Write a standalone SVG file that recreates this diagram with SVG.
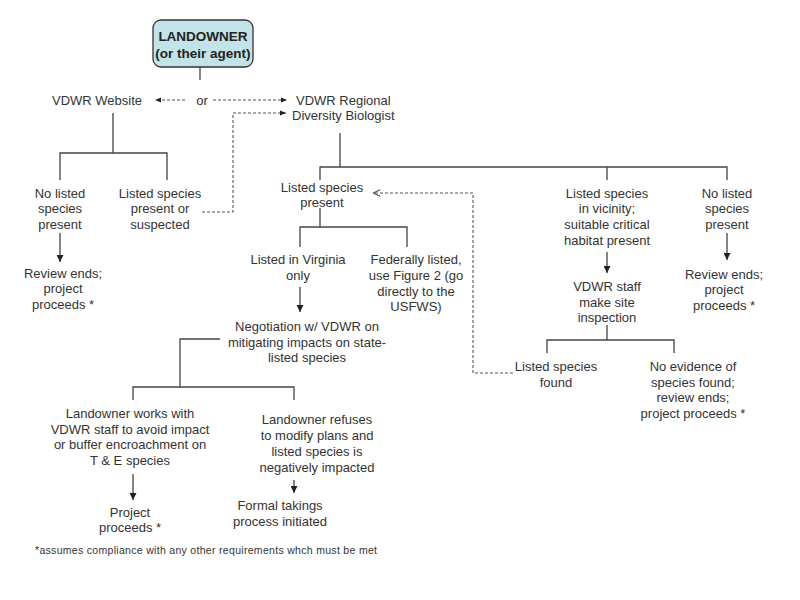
<svg xmlns="http://www.w3.org/2000/svg" width="800" height="600" viewBox="0 0 800 600">
<defs>
<style>
text{font-family:"Liberation Sans",Arial,sans-serif;font-size:13px;fill:#333;}
.c{text-anchor:middle;}
.b{font-weight:bold;font-size:13.5px;fill:#222;}
.fn{font-size:10.5px;}
.ln{stroke:#444;stroke-width:1.3;fill:none;}
.ds{stroke:#555;stroke-width:1.1;fill:none;stroke-dasharray:3,2;}
</style>
<marker id="ah" viewBox="0 0 10 10" refX="10" refY="5" markerWidth="7" markerHeight="7" markerUnits="userSpaceOnUse" orient="auto">
<path d="M0,0 L10,5 L0,10 z" fill="#222"/>
</marker>
<marker id="ahs" viewBox="0 0 10 10" refX="10" refY="5" markerWidth="6" markerHeight="6" markerUnits="userSpaceOnUse" orient="auto">
<path d="M0,1 L10,5 L0,9 z" fill="#222"/>
</marker>
<marker id="open" viewBox="0 0 10 10" refX="10" refY="5" markerWidth="8" markerHeight="8" markerUnits="userSpaceOnUse" orient="auto">
<path d="M1,1 L10,5 L1,9" fill="none" stroke="#444" stroke-width="1.3"/>
</marker>
</defs>
<rect width="800" height="600" fill="#fff"/>

<g id="connectors">
<path class="ln" d="M200,67 V80"/>
<path class="ln" d="M113,113 V153 M60,180 V153 H167 V180"/>
<path class="ln" d="M60,233 V262" marker-end="url(#ah)"/>
<path class="ln" d="M340,133 V167 M320,180 V167 H727 V180 M607,167 V180"/>
<path class="ln" d="M320,208 V227 M300,247 V227 H407 V247"/>
<path class="ln" d="M300,287 V312" marker-end="url(#ah)"/>
<path class="ln" d="M220,339 H180 V387 M133,400 V387 H294 V400"/>
<path class="ln" d="M133,474 V500" marker-end="url(#ah)"/>
<path class="ln" d="M294,480 V493" marker-end="url(#ah)"/>
<path class="ln" d="M607,252 V273" marker-end="url(#ah)"/>
<path class="ln" d="M607,325 V340 M547,353 V340 H674 V353"/>
<path class="ln" d="M727,233 V260" marker-end="url(#ah)"/>
<path class="ds" d="M185,100 H155" marker-end="url(#ahs)"/>
<path class="ds" d="M213,100 H287" marker-end="url(#ahs)"/>
<path class="ds" d="M202,212 H233 V113 H286" marker-end="url(#ahs)"/>
<path class="ds" d="M513,373 H473 V193 H373" marker-end="url(#open)"/>
</g>

<g id="landowner">
<rect x="153" y="20" width="100" height="47" rx="8" ry="8" fill="#c2e3e7" stroke="#333" stroke-width="1.3"/>
<text class="c b" x="203" y="41">LANDOWNER</text>
<text class="c b" x="203" y="58">(or their agent)</text>
</g>

<g id="website"><text class="c" x="97" y="104.5">VDWR Website</text></g>
<g id="or"><text class="c" x="202" y="104.5">or</text></g>
<g id="regional">
<text x="296" y="104.5">VDWR Regional</text>
<text x="292" y="119.5">Diversity Biologist</text>
</g>

<g id="no-listed-left">
<text class="c" x="60" y="197.5">No listed</text>
<text class="c" x="60" y="213">species</text>
<text class="c" x="60" y="228.5">present</text>
</g>
<g id="listed-suspected">
<text class="c" x="160" y="197.5">Listed species</text>
<text class="c" x="160" y="213">present or</text>
<text class="c" x="160" y="228.5">suspected</text>
</g>
<g id="review-left">
<text class="c" x="63" y="277.5">Review ends;</text>
<text class="c" x="63" y="293">project</text>
<text class="c" x="63" y="308.5">proceeds *</text>
</g>

<g id="listed-present">
<text class="c" x="322" y="191.5">Listed species</text>
<text class="c" x="322" y="206.5">present</text>
</g>
<g id="virginia">
<text class="c" x="298" y="263.5">Listed in Virginia</text>
<text class="c" x="298" y="279.5">only</text>
</g>
<g id="federal">
<text class="c" x="416" y="263.5">Federally listed,</text>
<text class="c" x="416" y="279.5">use Figure 2 (go</text>
<text class="c" x="416" y="295.5">directly to the</text>
<text class="c" x="416" y="310.5">USFWS)</text>
</g>
<g id="negotiation">
<text class="c" x="307" y="330.5">Negotiation w/ VDWR on</text>
<text class="c" x="307" y="346.5">mitigating impacts on state-</text>
<text class="c" x="307" y="361.5">listed species</text>
</g>
<g id="works">
<text class="c" x="130" y="417.5">Landowner works with</text>
<text class="c" x="130" y="433.5">VDWR staff to avoid impact</text>
<text class="c" x="130" y="449">or buffer encroachment on</text>
<text class="c" x="130" y="465">T &amp; E species</text>
</g>
<g id="refuses">
<text class="c" x="317" y="424">Landowner refuses</text>
<text class="c" x="317" y="440">to modify plans and</text>
<text class="c" x="317" y="455.5">listed species is</text>
<text class="c" x="317" y="471.5">negatively impacted</text>
</g>
<g id="project-proceeds">
<text class="c" x="130" y="517">Project</text>
<text class="c" x="130" y="532">proceeds *</text>
</g>
<g id="takings">
<text class="c" x="280" y="510">Formal takings</text>
<text class="c" x="280" y="526">process initiated</text>
</g>

<g id="vicinity">
<text class="c" x="607" y="197.5">Listed species</text>
<text class="c" x="607" y="213">in vicinity;</text>
<text class="c" x="607" y="228.5">suitable critical</text>
<text class="c" x="607" y="244.5">habitat present</text>
</g>
<g id="inspection">
<text class="c" x="607" y="291">VDWR staff</text>
<text class="c" x="607" y="306.5">make site</text>
<text class="c" x="607" y="321.5">inspection</text>
</g>
<g id="found">
<text class="c" x="556" y="370.5">Listed species</text>
<text class="c" x="556" y="386.5">found</text>
</g>
<g id="no-evidence">
<text class="c" x="693" y="370.5">No evidence of</text>
<text class="c" x="693" y="386.5">species found;</text>
<text class="c" x="693" y="401.5">review ends;</text>
<text class="c" x="693" y="417.5">project proceeds *</text>
</g>
<g id="no-listed-right">
<text class="c" x="727" y="197.5">No listed</text>
<text class="c" x="727" y="213">species</text>
<text class="c" x="727" y="228.5">present</text>
</g>
<g id="review-right">
<text class="c" x="724" y="278.5">Review ends;</text>
<text class="c" x="724" y="294">project</text>
<text class="c" x="724" y="309.5">proceeds *</text>
</g>

<g id="footnote">
<text class="fn" x="35" y="554" textLength="342" lengthAdjust="spacing">*assumes compliance with any other requirements whch must be met</text>
</g>
</svg>
